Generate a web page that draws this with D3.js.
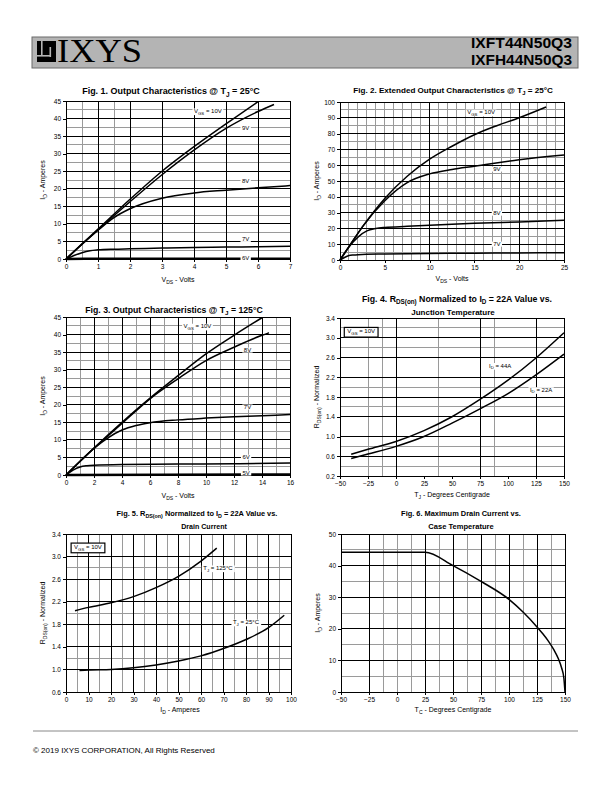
<!DOCTYPE html>
<html><head><meta charset="utf-8">
<script src="https://cdn.jsdelivr.net/npm/d3@7"></script>
<style>
body{margin:0;background:#fff}
svg{display:block}
text{font-family:"Liberation Sans",Arial,sans-serif;fill:#000}
</style>
</head><body>
<svg id="c" width="612" height="792"></svg>
<script>
// ---------------- DATA ----------------
// Fig.1 Output characteristics @25C (VDS, ID)
const f1_10V = [[0,0],[0.5,4.3],[1,8.5],[2,17],[3,25],[4,32],[5,38.5],[6,44.8]];
const f1_9V  = [[0,0],[0.5,4.2],[1,8.3],[2,16.3],[3,24],[4,31],[5,37.2],[6,42],[6.5,44]];
const f1_8V  = [[0,0],[0.5,4.2],[1,8.2],[1.5,11.8],[2,14.3],[3,17.3],[4,18.8],[5,19.6],[6,20.3],[7,20.9]];
const f1_7V  = [[0,0],[0.25,1.0],[0.5,1.8],[0.75,2.35],[1,2.6],[1.5,2.8],[2,2.9],[3,3.1],[4,3.3],[5,3.4],[6,3.5],[7,3.6]];
const f1_6V  = [[0,0],[1,0.05],[7,0.1]];
// Fig.2 Extended output characteristics @25C
const f2_10V = [[0,0],[1,8.5],[2.5,21],[5,39],[7.5,53],[10,63.8],[12.5,72],[15,79.3],[17.5,85],[20,90],[23,96.8]];
const f2_9V  = [[0,0],[1,8.3],[2.5,21],[5,37.5],[7.5,49],[10,54.5],[12.5,57.3],[15,59.3],[20,63.4],[25,66.4]];
const f2_8V  = [[0,0],[1,8.3],[2,14.5],[3,18.4],[4,19.9],[5,20.6],[7.5,21.3],[10,22],[15,23.2],[20,24.1],[25,25.1]];
const f2_7V  = [[0,0],[0.5,1.6],[1,2.8],[1.5,3.2],[2,3.4],[5,3.8],[10,4.1],[15,4.3],[20,4.5],[25,4.6]];
// Fig.3 Output characteristics @125C
const f3_10V = [[0,0],[2,7.7],[4,15],[6,21.9],[8,28.3],[10,34.5],[12,39.8],[14,44.8]];
const f3_8V  = [[0,0],[2,7.6],[4,14.7],[6,21.7],[8,27.4],[10,32.6],[12,36.4],[14,39.8],[14.5,40.5]];
const f3_7V  = [[0,0],[1,3.9],[2,7.6],[3,10.6],[4,12.8],[5,14.1],[6,14.9],[8,15.7],[10,16.2],[12,16.6],[14,16.9],[16,17.2]];
const f3_6V  = [[0,0],[0.5,1.4],[1,2.3],[1.5,2.65],[2,2.8],[4,3.0],[8,3.1],[12,3.2],[16,3.4]];
const f3_5V  = [[0,0],[16,0.15]];
// Fig.4 RDS(on) normalized vs junction temperature
const f4_44A = [[-40,0.64],[-25,0.74],[0,0.9],[25,1.12],[50,1.4],[75,1.75],[100,2.14],[125,2.59],[150,3.1]];
const f4_22A = [[-40,0.555],[-25,0.645],[0,0.8],[25,1.0],[50,1.27],[75,1.56],[100,1.87],[125,2.25],[150,2.67]];
// Fig.5 RDS(on) normalized vs drain current
const f5_125 = [[4,2.04],[10,2.1],[20,2.18],[30,2.29],[40,2.45],[50,2.65],[60,2.92],[67,3.15]];
const f5_25  = [[6,0.98],[10,0.99],[20,1.0],[30,1.03],[40,1.08],[50,1.15],[60,1.24],[70,1.37],[80,1.53],[90,1.74],[97,1.96]];
// Fig.6 Max drain current vs case temperature
const f6_Id  = [[-50,44.2],[25,44.2],[50,40],[75,35],[100,29.3],[112.5,25.3],[125,20.6],[130,18.5],[135,16.2],[140,13.4],[144,10.6],[147,7.6],[149,4.4],[150,0]];

// tick values
const f1_xt = [0,1,2,3,4,5,6,7],               f1_yt = [0,5,10,15,20,25,30,35,40,45];
const f2_xt = [0,5,10,15,20,25],               f2_yt = [0,10,20,30,40,50,60,70,80,90,100];
const f3_xt = [0,2,4,6,8,10,12,14,16],         f3_yt = [0,5,10,15,20,25,30,35,40,45];
const f4_xt = [-50,-25,0,25,50,75,100,125,150],f4_yt = [0.2,0.6,1.0,1.4,1.8,2.2,2.6,3.0,3.4];
const f5_xt = [0,10,20,30,40,50,60,70,80,90,100], f5_yt = [0.6,1.0,1.4,1.8,2.2,2.6,3.0,3.4];
const f6_xt = [-50,-25,0,25,50,75,100,125,150],f6_yt = [0,10,20,30,40,50];

// ---------------- DRAWING ----------------
const svg = d3.select('#c');

function rich(sel, parts, size){
  sel.selectAll('tspan').remove();
  let shifted = 0;
  parts.forEach(([s, sub]) => {
    const t = sel.append('tspan').text(s);
    if (sub && !shifted){ t.attr('font-size', size*0.72).attr('dy', size*0.28); shifted = size*0.28; }
    else if (sub){ t.attr('font-size', size*0.72); }
    else if (shifted){ t.attr('dy', -shifted); shifted = 0; }
  });
}
function fitText(t, parts, size, width){
  t.attr('font-size', size); rich(t, parts, size);
  if (width){
    const w = t.node().getBBox().width;
    const s2 = size * width / w;
    t.attr('font-size', s2); rich(t, parts, s2);
  }
}
const P = s => [[s,0]];
const VGS = v => [["V",0],["GS",1],[" = "+v,0]];

function panel(c){
  const g = svg.append('g');
  const x = d3.scaleLinear().domain(c.xd).range([c.l, c.l + c.w]);
  const y = d3.scaleLinear().domain(c.yd).range([c.t + c.h, c.t]);
  const gl = (vals, col, vert) => g.append('g').selectAll('line').data(vals).join('line')
    .attr('x1', d => vert ? x(d) : c.l).attr('x2', d => vert ? x(d) : c.l + c.w)
    .attr('y1', d => vert ? c.t : y(d)).attr('y2', d => vert ? c.t + c.h : y(d))
    .attr('stroke', col).attr('stroke-width', 1).attr('shape-rendering','crispEdges');
  gl(c.xMin, '#9a9a9a', true); gl(c.yMin, '#9a9a9a', false);
  gl(c.xMaj, '#000', true);   gl(c.yMaj, '#000', false);
  g.append('rect').attr('x', c.l).attr('y', c.t).attr('width', c.w).attr('height', c.h)
    .attr('fill','none').attr('stroke','#000').attr('stroke-width',1).attr('shape-rendering','crispEdges');
  const ax = g.append('g').attr('transform', `translate(0,${c.t + c.h})`)
    .call(d3.axisBottom(x).tickValues(c.xt).tickSize(3).tickPadding(2).tickFormat(c.xf || d3.format('d')));
  const ay = g.append('g').attr('transform', `translate(${c.l},0)`)
    .call(d3.axisLeft(y).tickValues(c.yt).tickSize(3).tickPadding(2).tickFormat(c.yf || d3.format('d')));
  [ax, ay].forEach(a => {
    a.select('.domain').remove();
    a.selectAll('line').attr('stroke','#000').attr('shape-rendering','crispEdges');
    a.selectAll('text').attr('font-size', 6.5).attr('font-family','Liberation Sans, Arial, sans-serif').attr('fill','#111');
  });
  const line = d3.line().x(d => x(d[0])).y(d => y(d[1])).curve(d3.curveMonotoneX);
  c.series.forEach(s => {
    g.append('path').datum(s.d).attr('d', line).attr('fill','none')
      .attr('stroke','#000').attr('stroke-width', s.w || 1.5).attr('stroke-linejoin','round');
  });
  (c.labels || []).forEach(lb => {
    const t = g.append('text').attr('x', x(lb.x)).attr('y', y(lb.y)).attr('dy','0.35em');
    fitText(t, lb.p, 6);
    const b = t.node().getBBox();
    g.insert('rect', () => t.node()).attr('x', b.x - 1.5).attr('y', b.y + 0.5).attr('width', b.width + 3).attr('height', b.height - 1)
      .attr('fill','#fff');
  });
  (c.boxes || []).forEach(bx => {
    const t = g.append('text').attr('x', x(bx.x)).attr('y', y(bx.y)).attr('dy','0.35em');
    fitText(t, bx.p, 6);
    const b = t.node().getBBox();
    g.insert('rect', () => t.node()).attr('x', b.x - 3).attr('y', b.y - 1).attr('width', b.width + 6).attr('height', b.height + 2)
      .attr('fill','#fff').attr('stroke','#000').attr('stroke-width', 1.2);
  });
  c.title.forEach(tl => {
    const t = svg.append('text').attr('x', tl.x).attr('y', tl.y).attr('text-anchor','middle').attr('font-weight','bold');
    fitText(t, tl.p, 8, tl.w);
  });
  const xt = svg.append('text').attr('x', c.xtx).attr('y', c.xty).attr('text-anchor','middle');
  fitText(xt, c.xtitle, 7);
  const yt = svg.append('text').attr('transform', `translate(${c.ytx},${c.t + c.h/2}) rotate(-90)`).attr('text-anchor','middle');
  fitText(yt, c.ytitle, 7);
}

const seq = (a, b, s) => d3.range(a, b + s/2, s);
const f1dec = d3.format('.1f');

// Fig 1
panel({l:66, t:101, w:224, h:158, xd:[0,7], yd:[0,45], xt:f1_xt, yt:f1_yt,
  xMaj:[1,2,3,4,5,6], xMin:[0.5,1.5], yMaj:seq(5,40,5), yMin:seq(2.5,42.5,5),
  series:[{d:f1_10V},{d:f1_9V},{d:f1_8V},{d:f1_7V},{d:f1_6V,w:2.5}],
  labels:[{p:VGS('10V'),x:4.0,y:42.2},{p:P('9V'),x:5.5,y:37.3},{p:P('8V'),x:5.5,y:22.3},{p:P('7V'),x:5.5,y:5.6},{p:P('6V'),x:5.5,y:0.4}],
  title:[{x:171,y:94,w:178,p:[["Fig. 1. Output Characteristics @ T",0],["J",1],[" = 25°C",0]]}],
  xtx:178, xty:282, xtitle:[["V",0],["DS",1],[" - Volts",0]],
  ytx:45, ytitle:[["I",0],["D",1],[" - Amperes",0]]});

// Fig 2
panel({l:340, t:102, w:224, h:158, xd:[0,25], yd:[0,100], xt:f2_xt, yt:f2_yt,
  xMaj:[10,20], xMin:d3.range(1,25).filter(v => v % 10), yMaj:seq(10,90,10), yMin:seq(5,95,10),
  series:[{d:f2_10V},{d:f2_9V},{d:f2_8V},{d:f2_7V}],
  labels:[{p:VGS('10V'),x:14.2,y:93.7},{p:P('9V'),x:17.1,y:57.6},{p:P('8V'),x:17.1,y:29.7},{p:P('7V'),x:17.1,y:10.1}],
  title:[{x:453,y:93,w:200,p:[["Fig. 2. Extended Output Characteristics @ T",0],["J",1],[" = 25°C",0]]}],
  xtx:452, xty:281, xtitle:[["V",0],["DS",1],[" - Volts",0]],
  ytx:319, ytitle:[["I",0],["D",1],[" - Amperes",0]]});

// Fig 3
panel({l:66, t:317, w:224, h:158, xd:[0,16], yd:[0,45], xt:f3_xt, yt:f3_yt,
  xMaj:[2,4,6,8,10,12,14], xMin:[1,3,5,7,9,11,13,15], yMaj:seq(5,40,5), yMin:seq(2.5,42.5,5),
  series:[{d:f3_10V},{d:f3_8V},{d:f3_7V},{d:f3_6V},{d:f3_5V,w:2.5}],
  labels:[{p:VGS('10V'),x:8.4,y:42.4},{p:P('8V'),x:12.7,y:35.6},{p:P('7V'),x:12.7,y:19.4},{p:P('6V'),x:12.6,y:5.1},{p:P('5V'),x:12.6,y:0.6}],
  title:[{x:174,y:313,w:178,p:[["Fig. 3. Output Characteristics @ T",0],["J",1],[" = 125°C",0]]}],
  xtx:178, xty:498, xtitle:[["V",0],["DS",1],[" - Volts",0]],
  ytx:45, ytitle:[["I",0],["D",1],[" - Amperes",0]]});

// Fig 4
panel({l:340, t:318, w:224, h:158, xd:[-50,150], yd:[0.2,3.4], xt:f4_xt, yt:f4_yt, yf:f1dec,
  xMaj:[0,75,125], xMin:[-25,-12.5,37.5,87.5], yMaj:seq(0.6,3.0,0.4), yMin:[0.4,0.8,1.6,2.0,2.8,3.2],
  series:[{d:f4_44A},{d:f4_22A}],
  labels:[{p:[["I",0],["D",1],[" = 44A",0]],x:83,y:2.44},{p:[["I",0],["D",1],[" = 22A",0]],x:119.6,y:1.95}],
  boxes:[{p:VGS('10V'),x:-43.5,y:3.13}],
  title:[{x:457,y:302,w:190,p:[["Fig. 4. R",0],["DS(on)",1],[" Normalized to I",0],["D",1],[" = 22A Value vs.",0]]},
         {x:453,y:315,p:P('Junction Temperature')}],
  xtx:452, xty:497, xtitle:[["T",0],["J",1],[" - Degrees Centigrade",0]],
  ytx:319, ytitle:[["R",0],["DS(on)",1],[" - Normalized",0]]});

// Fig 5
panel({l:66, t:534, w:225, h:158, xd:[0,100], yd:[0.6,3.4], xt:f5_xt, yt:f5_yt, yf:f1dec,
  xMaj:seq(10,90,10), xMin:seq(5,95,10), yMaj:seq(1.0,3.0,0.4), yMin:[1.2,2.0,2.8],
  series:[{d:f5_125},{d:f5_25}],
  labels:[{p:[["T",0],["J",1],[" = 125°C",0]],x:61,y:2.8},{p:[["T",0],["J",1],[" = 25°C",0]],x:74.2,y:1.84}],
  boxes:[{p:VGS('10V'),x:3.6,y:3.17}],
  title:[{x:197,y:516,w:161,p:[["Fig. 5. R",0],["DS(on)",1],[" Normalized to I",0],["D",1],[" = 22A Value vs.",0]]},
         {x:204,y:529,w:46,p:P('Drain Current')}],
  xtx:180, xty:712, xtitle:[["I",0],["D",1],[" - Amperes",0]],
  ytx:45, ytitle:[["R",0],["DS(on)",1],[" - Normalized",0]]});

// Fig 6
panel({l:341, t:534, w:224, h:158, xd:[-50,150], yd:[0,50], xt:f6_xt, yt:f6_yt,
  xMaj:[-25,25,50,75,100,125], xMin:[-12.5,0,12.5,37.5,62.5,87.5,112.5,137.5], yMaj:[10,20,30,40], yMin:[5,15,25,35,45],
  series:[{d:f6_Id}],
  title:[{x:461,y:516,w:120,p:P('Fig. 6. Maximum Drain Current vs.')},{x:461,y:529,w:66,p:P('Case Temperature')}],
  xtx:453, xty:712, xtitle:[["T",0],["C",1],[" - Degrees Centigrade",0]],
  ytx:320, ytitle:[["I",0],["D",1],[" - Amperes",0]]});

// ---------------- HEADER / FOOTER ----------------
const hd = svg.append('g');
hd.append('rect').attr('x',32).attr('y',37).attr('width',546).attr('height',31)
  .attr('fill','#b4b4b4').attr('stroke','#6a6a6a').attr('stroke-width',1);
hd.append('rect').attr('x',37).attr('y',41).attr('width',19).attr('height',21).attr('fill','#000');
hd.append('rect').attr('x',41).attr('y',41).attr('width',1.6).attr('height',14).attr('fill','#b4b4b4');
hd.append('rect').attr('x',37).attr('y',55).attr('width',13).attr('height',1.6).attr('fill','#b4b4b4');
hd.append('rect').attr('x',49.5).attr('y',47).attr('width',1.6).attr('height',10).attr('fill','#b4b4b4');
hd.append('text').attr('x',57).attr('y',62)
  .style('font-family','"Liberation Serif","Times New Roman",serif')
  .attr('font-size',34).attr('textLength',85).attr('lengthAdjust','spacingAndGlyphs').text('IXYS');
hd.append('text').attr('x',572).attr('y',48).attr('text-anchor','end').attr('font-size',14.5).attr('font-weight','bold')
  .attr('textLength',101).attr('lengthAdjust','spacingAndGlyphs').text('IXFT44N50Q3');
hd.append('text').attr('x',572).attr('y',65).attr('text-anchor','end').attr('font-size',14.5).attr('font-weight','bold')
  .attr('textLength',101).attr('lengthAdjust','spacingAndGlyphs').text('IXFH44N50Q3');

svg.append('line').attr('x1',33).attr('x2',578).attr('y1',731).attr('y2',731).attr('stroke','#888').attr('stroke-width',1);
svg.append('text').attr('x',33).attr('y',753).attr('font-size',8).text('© 2019 IXYS CORPORATION,  All Rights Reserved');
</script>
</body></html>
